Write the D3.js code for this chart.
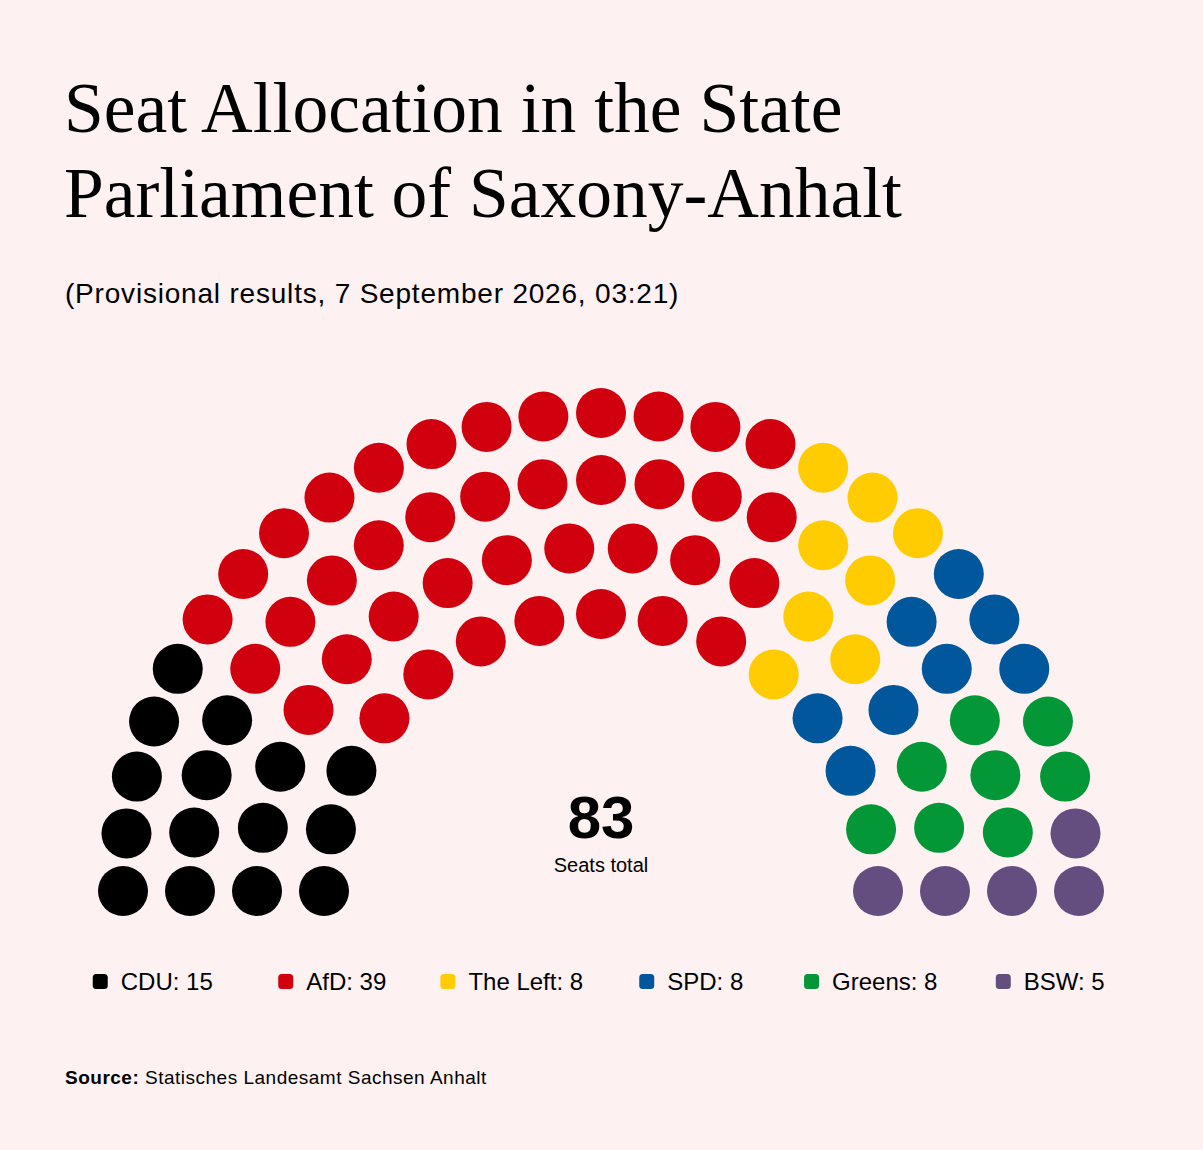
<!DOCTYPE html>
<html>
<head>
<meta charset="utf-8">
<script src="https://cdn.jsdelivr.net/npm/d3@7"></script>
<style>
  html, body { margin: 0; padding: 0; background: #fef1f1; }
  svg { display: block; }
</style>
</head>
<body>
<svg id="chart" width="1203" height="1150"></svg>
<script>
// ---- data ----
const parties = ["CDU", "AfD", "The Left", "SPD", "Greens", "BSW"];
const seats = [15, 39, 8, 8, 8, 5];
const colors = ["#000000", "#d0000f", "#fecc00", "#01579b", "#039737", "#644e80"];
const rowSeats = [15, 18, 23, 27]; // seats per row, inner to outer
const titleLines = ["Seat Allocation in the State", "Parliament of Saxony-Anhalt"];
const subtitle = "(Provisional results, 7 September 2026, 03:21)";
const sourceLabel = "Source:";
const sourceText = " Statisches Landesamt Sachsen Anhalt";
const totalLabel = "Seats total";

// ---- layout ----
const W = 1203, H = 1150;
const cx = 601, cy = 891;
const seatR = 25;
const svg = d3.select("#chart");
svg.append("rect").attr("width", W).attr("height", H).attr("fill", "#fef1f1");

const sans = "'Liberation Sans', Arial, Helvetica, sans-serif";
const serif = "'Liberation Serif', 'Times New Roman', serif";

// Title
svg.append("text")
  .attr("font-family", serif).attr("font-size", 71.5).attr("fill", "#000")
  .selectAll("tspan").data(titleLines).join("tspan")
  .attr("x", 64).attr("y", (d, i) => 132 + i * 85).text(d => d);

// Subtitle
svg.append("text")
  .attr("x", 65).attr("y", 303)
  .attr("font-family", sans).attr("font-size", 28).attr("letter-spacing", 0.8)
  .attr("fill", "#000").text(subtitle);

// Seats
const rScale = d3.scaleLinear().domain([0, rowSeats.length - 1]).range([277, 478]);
let allSeats = [];
rowSeats.forEach((n, ri) => {
  const aScale = d3.scaleLinear().domain([0, n - 1]).range([Math.PI, 0]);
  d3.range(n).forEach(k => {
    allSeats.push({ row: ri, angle: aScale(k), r: rScale(ri) });
  });
});
allSeats.sort((a, b) => (b.angle - a.angle) || (a.row - b.row));
// assign parties in order
const cum = Array.from(d3.cumsum(seats));
allSeats.forEach((s, i) => { s.party = d3.bisectRight(cum, i); });
svg.append("g").selectAll("circle").data(allSeats).join("circle")
  .attr("cx", d => cx + d.r * Math.cos(d.angle))
  .attr("cy", d => cy - d.r * Math.sin(d.angle))
  .attr("r", seatR)
  .attr("fill", d => colors[d.party]);

// Center total
svg.append("text").attr("x", cx).attr("y", 838)
  .attr("text-anchor", "middle").attr("font-family", sans)
  .attr("font-weight", "bold").attr("font-size", 60).attr("fill", "#000")
  .text(d3.sum(seats));
svg.append("text").attr("x", cx).attr("y", 872)
  .attr("text-anchor", "middle").attr("font-family", sans)
  .attr("font-size", 20).attr("fill", "#000").text(totalLabel);

// Legend: equal columns, items centered
const legendScale = d3.scaleBand().domain(parties).range([63, 1140]);
const legendY = 990;
const sq = 15, gap = 13;
const items = svg.append("g").selectAll("g").data(parties).join("g");
items.each(function (p, i) {
  const g = d3.select(this);
  const t = g.append("text").attr("y", legendY)
    .attr("font-family", sans).attr("font-size", 24).attr("fill", "#000")
    .text(`${p}: ${seats[i]}`);
  const tw = t.node().getComputedTextLength();
  const total = sq + gap + tw;
  const x0 = legendScale(p) + legendScale.bandwidth() / 2 - total / 2;
  g.insert("rect", "text").attr("x", x0).attr("y", legendY - 16)
    .attr("width", sq).attr("height", sq).attr("rx", 3.5)
    .attr("fill", colors[i]);
  t.attr("x", x0 + sq + gap);
});

// Source
const src = svg.append("text").attr("x", 65).attr("y", 1084)
  .attr("font-family", sans).attr("font-size", 19).attr("letter-spacing", 0.5).attr("fill", "#000");
src.append("tspan").attr("font-weight", "bold").text(sourceLabel);
src.append("tspan").text(sourceText);
</script>
</body>
</html>
